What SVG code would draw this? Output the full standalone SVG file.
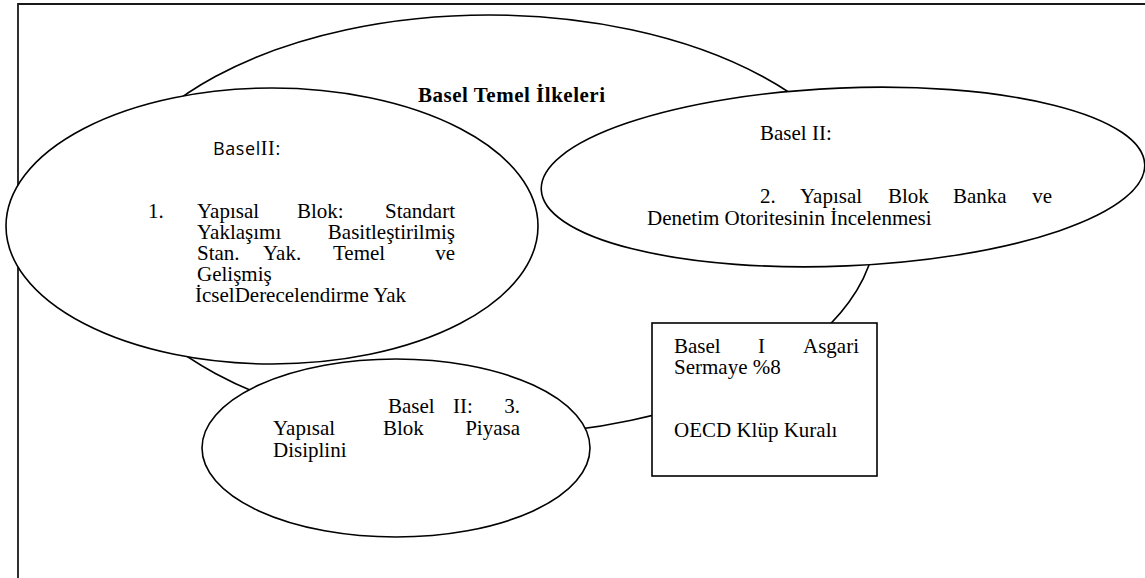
<svg xmlns="http://www.w3.org/2000/svg" width="1145" height="578" viewBox="0 0 1145 578">
<style>
.shape{fill:#fff;stroke:#000;stroke-width:1.6}
.frame{fill:none;stroke:#1a1a1a;stroke-width:1.8}
.t{font-family:"Liberation Serif","Times New Roman",serif;font-size:21px;fill:#000}
.b{font-weight:bold}
.s{font-family:"Open Sans","Liberation Sans",sans-serif;font-size:18px;fill:#000;letter-spacing:0.6px}
</style>
<rect width="1145" height="578" fill="#fff"/>
<path class="frame" d="M18,578 V4 H1145"/>
<g id="node-temel">
<ellipse class="shape" cx="489" cy="225" rx="387" ry="210"/>
<text class="t b" x="418" y="102" textLength="187" lengthAdjust="spacing">Basel Temel İlkeleri</text>
</g>
<g id="node-blok1">
<ellipse class="shape" cx="272" cy="226" rx="266" ry="138"/>
<text class="s" x="213" y="155">Basel<tspan font-family="Liberation Serif, serif" font-size="20">II</tspan>:</text>
<text class="t" y="218"><tspan x="148">1.</tspan><tspan x="197">Yapısal</tspan><tspan x="297">Blok:</tspan><tspan x="455" text-anchor="end">Standart</tspan></text>
<text class="t" y="239"><tspan x="197">Yaklaşımı</tspan><tspan x="455" text-anchor="end">Basitleştirilmiş</tspan></text>
<text class="t" y="260"><tspan x="197">Stan.</tspan><tspan x="263">Yak.</tspan><tspan x="333">Temel</tspan><tspan x="455" text-anchor="end">ve</tspan></text>
<text class="t" x="197" y="281">Gelişmiş</text>
<text class="t" x="195" y="302">İcselDerecelendirme Yak</text>
</g>
<g id="node-blok2">
<ellipse class="shape" cx="843" cy="177" rx="302" ry="89" transform="rotate(-2.4 843 177)"/>
<text class="t" x="760" y="140">Basel II:</text>
<text class="t" y="203"><tspan x="760">2.</tspan><tspan x="800">Yapısal</tspan><tspan x="888">Blok</tspan><tspan x="953">Banka</tspan><tspan x="1052" text-anchor="end">ve</tspan></text>
<text class="t" x="647" y="225">Denetim Otoritesinin İncelenmesi</text>
</g>
<g id="node-blok3">
<ellipse class="shape" cx="396" cy="448" rx="194" ry="89"/>
<text class="t" y="413"><tspan x="388">Basel</tspan><tspan x="453">II:</tspan><tspan x="520" text-anchor="end">3.</tspan></text>
<text class="t" y="435"><tspan x="273">Yapısal</tspan><tspan x="383">Blok</tspan><tspan x="520" text-anchor="end">Piyasa</tspan></text>
<text class="t" x="273" y="457">Disiplini</text>
</g>
<g id="node-basel1">
<rect class="shape" x="652" y="323" width="225" height="153"/>
<text class="t" y="353"><tspan x="674">Basel</tspan><tspan x="758">I</tspan><tspan x="859" text-anchor="end">Asgari</tspan></text>
<text class="t" x="674" y="374">Sermaye %8</text>
<text class="t" x="674" y="437">OECD Klüp Kuralı</text>
</g>
<g id="connectors"></g>
</svg>
